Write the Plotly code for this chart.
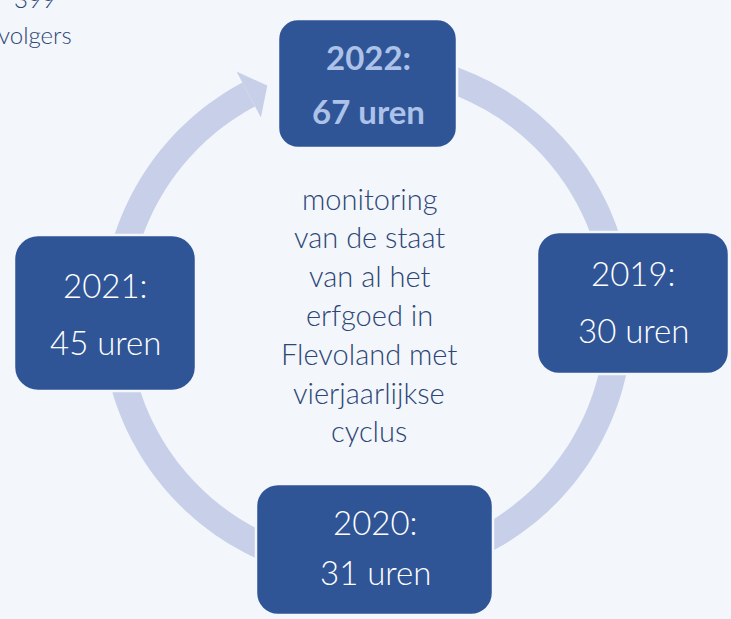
import numpy as np
import plotly.graph_objects as go

# ---------------- data ----------------
years = ["2022", "2019", "2020", "2021"]
hours = [67, 30, 31, 45]
center_lines = ["monitoring", "van de staat", "van al het", "erfgoed in",
                "Flevoland met", "vierjaarlijkse", "cyclus"]
followers = 399
followers_label = "volgers"

# ---------------- layout geometry (pixels) ----------------
W, H = 731, 619
BG = "#F3F6FA"
BOX = "#2F5597"
RING = "#C8D0E9"
TXT_DARK = "#2C4677"
TXT_HILITE = "#ADC2E8"

ring_c = (367.0, 317.0)
ring_r = 252.0
ring_w = 27.0
arrow_base_deg = 118.0
arrow_tip_deg = 113.3
ring_end_deg = 460.0
head_half = 26.0

# box rect (x0, y0, x1, y1, corner) and text centers (cx, y_line1, y_line2)
box_geo = {
    "2022": ((278, 19, 457, 148, 20), (368, 57, 111)),
    "2019": ((537, 232, 729, 374, 22), (633, 273, 330)),
    "2020": ((256, 484, 493, 615, 22), (375, 522, 572)),
    "2021": ((14, 235, 196, 391, 24), (105, 285, 342)),
}
highlight_year = "2022"

center_text_x = 369
center_text_y0 = 198
center_text_dy = 38.8

FONT = "Lato"


def pt(theta_deg, r):
    t = np.deg2rad(theta_deg)
    return ring_c[0] + r * np.cos(t), ring_c[1] - r * np.sin(t)


def ring_path(a0, a1, r_in, r_out, n=240):
    ts = np.linspace(a0, a1, n)
    outer = [pt(t, r_out) for t in ts]
    inner = [pt(t, r_in) for t in ts[::-1]]
    pts = outer + inner
    s = "M" + " L".join(f"{x:.2f},{y:.2f}" for x, y in pts) + " Z"
    return s


def rrect(x0, y0, x1, y1, r):
    k = 0.4477 * r
    return (f"M{x0+r},{y0} L{x1-r},{y0} C{x1-k},{y0} {x1},{y0+k} {x1},{y0+r} "
            f"L{x1},{y1-r} C{x1},{y1-k} {x1-k},{y1} {x1-r},{y1} "
            f"L{x0+r},{y1} C{x0+k},{y1} {x0},{y1-k} {x0},{y1-r} "
            f"L{x0},{y0+r} C{x0},{y0+k} {x0+k},{y0} {x0+r},{y0} Z")


fig = go.Figure()
shapes = []

# ring (behind boxes)
shapes.append(dict(type="path", xref="x", yref="y", layer="below",
                   path=ring_path(arrow_base_deg, ring_end_deg,
                                  ring_r - ring_w / 2, ring_r + ring_w / 2),
                   fillcolor=RING, line=dict(width=0)))
# arrow head
b1 = pt(arrow_base_deg, ring_r + head_half)
b2 = pt(arrow_base_deg, ring_r - head_half)
tp = pt(arrow_tip_deg, ring_r)
shapes.append(dict(type="path", xref="x", yref="y", layer="below",
                   path=f"M{b1[0]:.2f},{b1[1]:.2f} L{tp[0]:.2f},{tp[1]:.2f} L{b2[0]:.2f},{b2[1]:.2f} Z",
                   fillcolor=RING, line=dict(width=0)))

annotations = []
for yr, hr in zip(years, hours):
    (x0, y0, x1, y1, cr), (cx, ya, yb) = box_geo[yr]
    shapes.append(dict(type="path", xref="x", yref="y", layer="above",
                       path=rrect(x0, y0, x1, y1, cr),
                       fillcolor=BOX, line=dict(color=BG, width=2.5)))
    hl = (yr == highlight_year)
    fnt = dict(family=FONT, size=33,
               color=TXT_HILITE if hl else "#FFFFFF",
               weight=700 if hl else 300)
    annotations.append(dict(x=cx, y=ya, xref="x", yref="y", text=f"{yr}:",
                            showarrow=False, xanchor="center", yanchor="middle", font=fnt))
    annotations.append(dict(x=cx, y=yb, xref="x", yref="y", text=f"{hr} uren",
                            showarrow=False, xanchor="center", yanchor="middle", font=fnt))

for i, line in enumerate(center_lines):
    annotations.append(dict(x=center_text_x, y=center_text_y0 + i * center_text_dy,
                            xref="x", yref="y", text=line, showarrow=False,
                            xanchor="center", yanchor="middle",
                            font=dict(family=FONT, size=29, color=TXT_DARK, weight=300)))

# follower count partially cut off at the top edge (paper-referenced so it is not hidden)
annotations.append(dict(x=35 / W, y=1 + 1.0 / H, xref="paper", yref="paper", text=str(followers),
                        showarrow=False, xanchor="center", yanchor="middle",
                        font=dict(family=FONT, size=24, color=TXT_DARK, weight=300)))
annotations.append(dict(x=35, y=34, xref="x", yref="y", text=followers_label,
                        showarrow=False, xanchor="center", yanchor="middle",
                        font=dict(family=FONT, size=24, color=TXT_DARK, weight=300)))

fig.update_layout(
    width=W, height=H, autosize=False,
    margin=dict(l=0, r=0, t=0, b=0, pad=0),
    paper_bgcolor=BG, plot_bgcolor=BG,
    shapes=shapes, annotations=annotations, showlegend=False,
)
fig.update_xaxes(range=[0, W], visible=False, fixedrange=True)
fig.update_yaxes(range=[H, 0], visible=False, fixedrange=True)

fig.write_html("out.html", config={"displayModeBar": False, "staticPlot": True},
               post_script="document.body.style.margin='0';document.body.style.background='" + BG + "';")
